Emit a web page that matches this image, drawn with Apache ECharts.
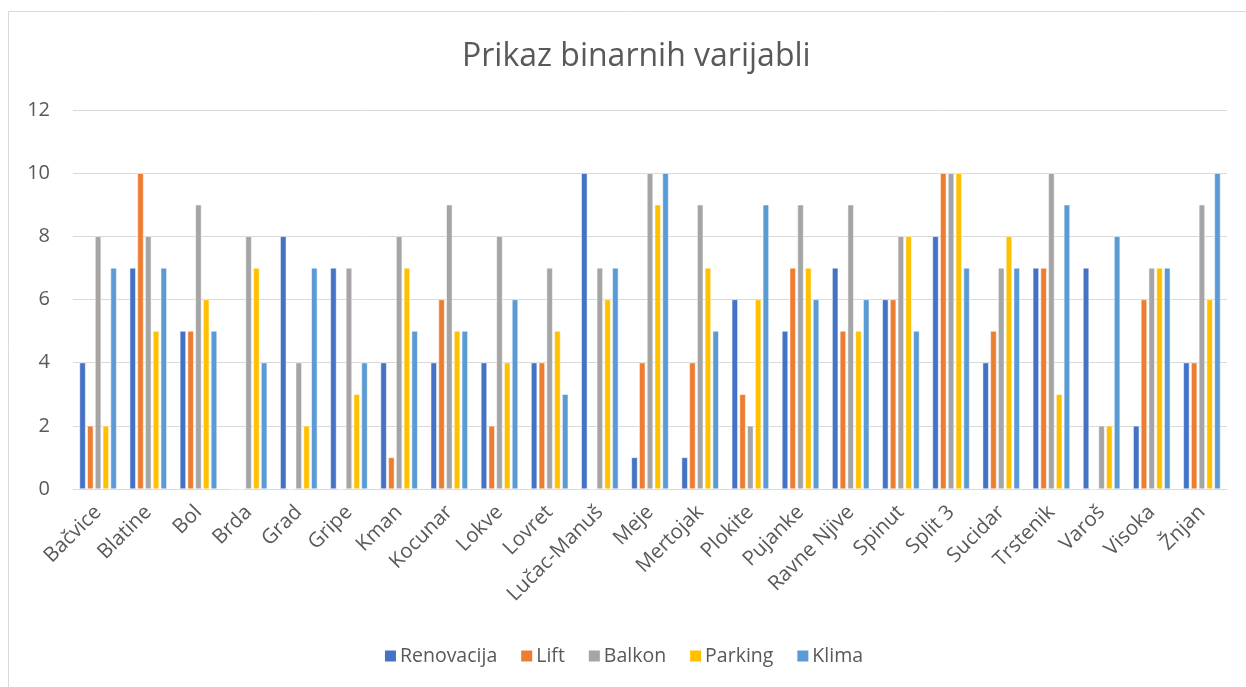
<!DOCTYPE html>
<html>
<head>
<meta charset="utf-8">
<script src="https://cdn.jsdelivr.net/npm/echarts@6/dist/echarts.min.js"></script>
<style>html,body{margin:0;padding:0;background:#fff;}#c{width:1246px;height:687px;}</style>
</head>
<body>
<div id="c"></div>
<script>
const categories = ['Bačvice','Blatine','Bol','Brda','Grad','Gripe','Kman','Kocunar','Lokve','Lovret','Lučac-Manuš','Meje','Mertojak','Plokite','Pujanke','Ravne Njive','Spinut','Split 3','Sucidar','Trstenik','Varoš','Visoka','Žnjan'];
const renovacija = [4,7,5,0,8,7,4,4,4,4,10,1,1,6,5,7,6,8,4,7,7,2,4];
const lift       = [2,10,5,0,0,0,1,6,2,4,0,4,4,3,7,5,6,10,5,7,0,6,4];
const balkon     = [8,8,9,8,4,7,8,9,8,7,7,10,9,2,9,9,8,10,7,10,2,7,9];
const parking    = [2,5,6,7,2,3,7,5,4,5,6,9,7,6,7,5,8,10,8,3,2,7,6];
const klima      = [7,7,5,4,7,4,5,5,6,3,7,10,5,9,6,6,5,7,7,9,8,7,10];
const seriesNames = ['Renovacija','Lift','Balkon','Parking','Klima'];
const colors = ['#4472C4','#ED7D31','#A5A5A5','#FFC000','#5B9BD5'];
const yTicks = {min:0, max:12, interval:2};

const chart = echarts.init(document.getElementById('c'));
const dataSets = [renovacija, lift, balkon, parking, klima];
const font = '"Open Sans", "Noto Sans", sans-serif';
chart.setOption({
  animation: false,
  textStyle: {fontFamily: font},
  color: colors,
  title: {
    text: 'Prikaz binarnih varijabli',
    left: 457, top: 36,
    textStyle: {fontSize: 32, fontWeight: 'normal', color: '#595959', fontFamily: font}
  },
  graphic: [{
    type: 'rect', silent: true, z: -1,
    shape: {x: 8.5, y: 11.5, width: 1300, height: 800},
    style: {fill: 'none', stroke: '#d9d9d9', lineWidth: 1}
  }],
  legend: {
    bottom: 16, left: 'center',
    itemWidth: 13, itemHeight: 13, itemGap: 22,
    icon: 'rect',
    textStyle: {fontSize: 19.5, color: '#595959', fontFamily: font, padding: [0,0,0,-2]},
    data: seriesNames
  },
  grid: {left: 73, right: 19, top: 110, bottom: 198},
  xAxis: {
    type: 'category', data: categories,
    axisLine: {lineStyle: {color: '#d9d9d9', width: 1}},
    axisTick: {show: false},
    axisLabel: {rotate: 45, fontSize: 20.5, color: '#595959', margin: 20, interval: 0, fontFamily: font}
  },
  yAxis: {
    type: 'value', min: yTicks.min, max: yTicks.max, interval: yTicks.interval,
    axisLine: {show: false}, axisTick: {show: false},
    axisLabel: {fontSize: 20, color: '#595959', margin: 23, fontFamily: font},
    splitLine: {lineStyle: {color: '#d9d9d9', width: 1}}
  },
  series: seriesNames.map((n, i) => ({
    name: n, type: 'bar', data: dataSets[i],
    barGap: '28%', barCategoryGap: '26%',
    itemStyle: {color: colors[i], borderColor: '#ffffff', borderWidth: 0.5}
  }))
});
</script>
</body>
</html>
